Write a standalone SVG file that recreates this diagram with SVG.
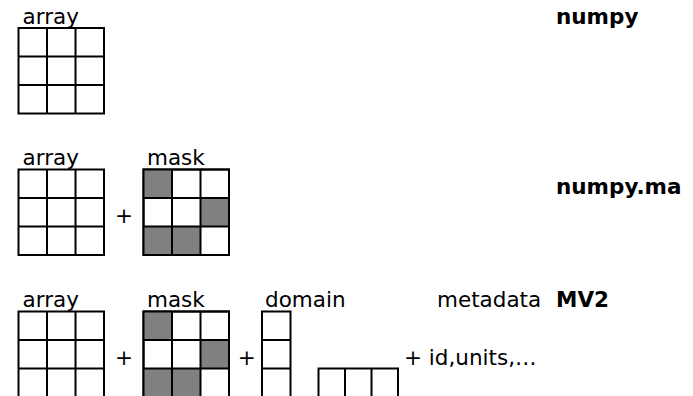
<svg xmlns="http://www.w3.org/2000/svg" width="693" height="396" viewBox="0 0 693 396">
<defs>
<style>
.lbl{font-family:"DejaVu Sans","Verdana",sans-serif;font-size:21.5px;fill:#000}
.ttl{font-family:"DejaVu Sans","Verdana",sans-serif;font-size:21.5px;font-weight:bold;fill:#000}
.g{fill:#fff;stroke:#000;stroke-width:2}
.ln{stroke:#000;stroke-width:2;fill:none}
.sh{fill:#808080}
</style>
<g id="grid3">
<rect class="g" x="0" y="0" width="85.5" height="85.5"/>
<path class="ln" d="M28.5 0V85.5M57 0V85.5M0 28.5H85.5M0 57H85.5"/>
</g>
<g id="maskgrid">
<rect class="g" x="0" y="0" width="85.5" height="85.5"/>
<rect class="sh" x="0" y="0" width="28.5" height="28.5"/>
<rect class="sh" x="57" y="28.5" width="28.5" height="28.5"/>
<rect class="sh" x="0" y="57" width="57" height="28.5"/>
<rect class="ln" x="0" y="0" width="85.5" height="85.5"/>
<path class="ln" d="M28.5 0V85.5M57 0V85.5M0 28.5H85.5M0 57H85.5"/>
</g>
</defs>
<rect width="693" height="396" fill="#fff"/>

<g id="row-numpy">
<g id="numpy-array">
<text class="lbl" x="22.5" y="23.5">array</text>
<use href="#grid3" x="18.5" y="28"/>
</g>
<text id="numpy-title" class="ttl" x="556" y="23.5">numpy</text>
</g>

<g id="row-numpy-ma">
<g id="ma-array">
<text class="lbl" x="22.5" y="165">array</text>
<use href="#grid3" x="18.5" y="169.5"/>
</g>
<text class="lbl" x="124" y="223" text-anchor="middle">+</text>
<g id="ma-mask">
<text class="lbl" x="147" y="165">mask</text>
<use href="#maskgrid" x="143.5" y="169.5"/>
</g>
<text id="ma-title" class="ttl" x="556" y="193.5">numpy.ma</text>
</g>

<g id="row-mv2">
<g id="mv2-array">
<text class="lbl" x="22.5" y="307">array</text>
<use href="#grid3" x="18.5" y="311.5"/>
</g>
<text class="lbl" x="124" y="365" text-anchor="middle">+</text>
<g id="mv2-mask">
<text class="lbl" x="147" y="307">mask</text>
<use href="#maskgrid" x="143.5" y="311.5"/>
</g>
<text class="lbl" x="246.7" y="365" text-anchor="middle">+</text>
<g id="mv2-domain">
<text class="lbl" x="265" y="307">domain</text>
<rect class="g" x="262" y="311.5" width="28.5" height="85.5"/>
<path class="ln" d="M262 340H290.5M262 368.5H290.5"/>
<rect class="g" x="318.5" y="368.5" width="79.5" height="28.5"/>
<path class="ln" d="M345 368.5V397M371.5 368.5V397"/>
</g>
<g id="mv2-metadata">
<text class="lbl" x="437" y="307">metadata</text>
<text class="lbl" x="404" y="365">+ id,units,…</text>
</g>
<text id="mv2-title" class="ttl" x="556" y="307">MV2</text>
</g>
</svg>
